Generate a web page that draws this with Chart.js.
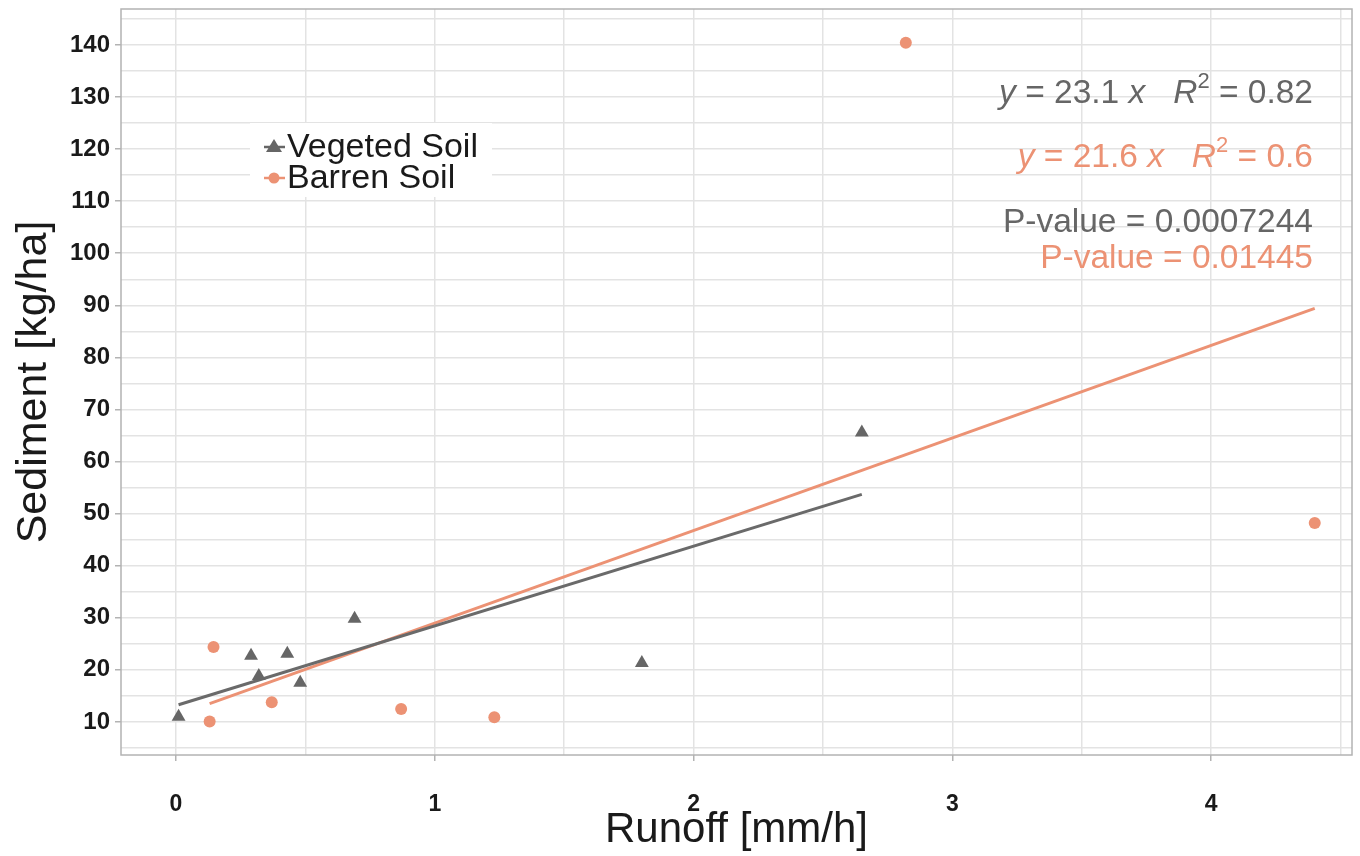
<!DOCTYPE html>
<html>
<head>
<meta charset="utf-8">
<script src="https://cdn.jsdelivr.net/npm/chart.js@4/dist/chart.umd.min.js"></script>
<style>
  html, body { margin: 0; padding: 0; background: #fff; }
  #wrap { width: 1360px; height: 856px; }
</style>
</head>
<body>
<div id="wrap"><canvas id="sedChart" width="1360" height="856"></canvas></div>
<script>
// values
const vegX = [0.01, 0.29, 0.32, 0.43, 0.48, 0.69, 1.80, 2.65];
const vegY = [11.0, 22.7, 18.8, 23.1, 17.5, 29.8, 21.3, 65.6];
const barX = [0.13, 0.145, 0.37, 0.87, 1.23, 2.82, 4.40];
const barY = [10.1, 24.4, 13.8, 12.5, 10.9, 140.4, 48.2];

// fitted lines (end points)
const vegFitX = [0.01, 2.65];
const vegFitY = [13.3, 53.7];
const barFitX = [0.13, 4.40];
const barFitY = [13.5, 89.4];

const seriesNames = ["Vegeted Soil", "Barren Soil"];
const vegEq = "y = 23.1 x   R2 = 0.82";
const barEq = "y = 21.6 x   R2 = 0.6";
const vegP = "P-value = 0.0007244";
const barP = "P-value = 0.01445";

const GREY = "#666666";
const SALMON = "#ec9274";
const FONT = "'Liberation Sans', Arial, sans-serif";

const toPts = (xs, ys) => xs.map((x, i) => ({ x: x, y: ys[i] }));

// ggplot-ish panel border, legend and the stats text
const extras = {
    id: "extras",
    afterDraw(chart) {
        const c = chart.ctx;
        const a = chart.chartArea;
        c.save();
        c.strokeStyle = "#b3b3b3";
        c.lineWidth = 1.5;
        c.strokeRect(a.left, a.top, a.right - a.left, a.bottom - a.top);

        // legend box
        const lx = a.left + 129, ly = a.top + 114;
        c.fillStyle = "#fff";
        c.fillRect(lx, ly, 242, 74);
        const rows = [
            { name: seriesNames[0], col: GREY, shape: "tri", y: ly + 24 },
            { name: seriesNames[1], col: SALMON, shape: "dot", y: ly + 55 },
        ];
        rows.forEach((r) => {
            c.strokeStyle = r.col;
            c.lineWidth = 2.5;
            c.beginPath();
            c.moveTo(lx + 14, r.y);
            c.lineTo(lx + 35, r.y);
            c.stroke();
            c.fillStyle = r.col;
            c.beginPath();
            if (r.shape === "tri") {
                c.moveTo(lx + 24, r.y - 8);
                c.lineTo(lx + 32, r.y + 5);
                c.lineTo(lx + 16, r.y + 5);
                c.closePath();
            } else {
                c.arc(lx + 24, r.y, 5.5, 0, Math.PI * 2);
            }
            c.fill();
            c.fillStyle = "#1a1a1a";
            c.font = "34px " + FONT;
            c.textBaseline = "middle";
            c.textAlign = "left";
            c.fillText(r.name, lx + 37, r.y + 1);
        });

        // stats text, right aligned
        const right = a.left + 1192;
        drawEq(c, vegEq, GREY, right, a.top + 94);
        drawEq(c, barEq, SALMON, right, a.top + 158);
        c.font = "33.5px " + FONT;
        c.textBaseline = "alphabetic";
        c.textAlign = "right";
        c.fillStyle = GREY;
        c.fillText(vegP, right, a.top + 223);
        c.fillStyle = SALMON;
        c.fillText(barP, right, a.top + 259);
        c.restore();
    },
};

// "y = 23.1 x   R2 = 0.82" with italics and superscript 2
function drawEq(c, str, col, right, base) {
    const m = str.match(/^y( = [\d.]+ )x(\s+)R2( = [\d.]+)$/);
    const parts = [
        { t: "y", f: "italic 33.5px " + FONT },
        { t: m[1], f: "33.5px " + FONT },
        { t: "x", f: "italic 33.5px " + FONT },
        { t: m[2], f: "33.5px " + FONT },
        { t: "R", f: "italic 33.5px " + FONT },
        { t: "2", f: "22px " + FONT, sup: true },
        { t: m[3], f: "33.5px " + FONT },
    ];
    let w = 0;
    parts.forEach((p) => { c.font = p.f; p.w = c.measureText(p.t).width; w += p.w; });
    let x = right - w;
    c.fillStyle = col;
    c.textAlign = "left";
    c.textBaseline = "alphabetic";
    parts.forEach((p) => {
        c.font = p.f;
        c.fillText(p.t, x, p.sup ? base - 15 : base);
        x += p.w;
    });
}

new Chart(document.getElementById("sedChart"), {
    type: "scatter",
    data: {
        datasets: [
            {
                label: seriesNames[0],
                data: toPts(vegX, vegY),
                pointStyle: "triangle",
                pointRadius: 8,
                backgroundColor: GREY,
                borderColor: GREY,
                borderWidth: 0,
            },
            {
                label: seriesNames[1],
                data: toPts(barX, barY),
                pointStyle: "circle",
                pointRadius: 6,
                backgroundColor: SALMON,
                borderColor: SALMON,
                borderWidth: 0,
            },
            {
                type: "line",
                label: "fit veg",
                data: toPts(vegFitX, vegFitY),
                borderColor: "#6a6a6a",
                borderWidth: 3,
                pointRadius: 0,
            },
            {
                type: "line",
                label: "fit barren",
                data: toPts(barFitX, barFitY),
                borderColor: SALMON,
                borderWidth: 3,
                pointRadius: 0,
            },
        ],
    },
    options: {
        responsive: false,
        animation: false,
        layout: { padding: { left: 0, right: 8, top: 9, bottom: 0 } },
        plugins: { legend: { display: false }, tooltip: { enabled: false } },
        scales: {
            x: {
                type: "linear",
                min: -0.2125,
                max: 4.544,
                border: { display: false },
                grid: {
                    color: "#e3e3e3",
                    lineWidth: 1.5,
                    tickLength: 6,
                    tickColor: (ctx) => (ctx.tick && ctx.tick.value % 1 === 0 ? "#b3b3b3" : "rgba(0,0,0,0)"),
                },
                ticks: {
                    stepSize: 0.5,
                    includeBounds: false,
                    maxRotation: 0,
                    autoSkip: false,
                    padding: 30,
                    color: "#1a1a1a",
                    font: { family: FONT, size: 23, weight: "bold" },
                    callback: (v) => (v % 1 === 0 ? v : ""),
                },
                title: {
                    display: true,
                    text: "Runoff [mm/h]",
                    color: "#1a1a1a",
                    font: { family: FONT, size: 42 },
                    padding: { top: 0, bottom: 0 },
                },
                afterFit: (s) => {
                    s.height = 101;
                    s.paddingLeft = 0;
                    s.paddingRight = 0;
                },
            },
            y: {
                type: "linear",
                min: 3.65,
                max: 146.9,
                border: { display: false },
                grid: {
                    color: "#e3e3e3",
                    lineWidth: 1.5,
                    tickLength: 6,
                    tickColor: (ctx) => (ctx.tick && ctx.tick.value % 10 === 0 ? "#b3b3b3" : "rgba(0,0,0,0)"),
                },
                ticks: {
                    stepSize: 5,
                    includeBounds: false,
                    autoSkip: false,
                    padding: 5,
                    color: "#1a1a1a",
                    font: { family: FONT, size: 24, weight: "bold" },
                    callback: (v) => (v % 10 === 0 ? v : ""),
                },
                title: {
                    display: true,
                    text: "Sediment [kg/ha]",
                    color: "#1a1a1a",
                    font: { family: FONT, size: 43 },
                    padding: { top: 8, bottom: 0 },
                },
                afterFit: (s) => {
                    s.width = 121;
                    s.paddingTop = 0;
                    s.paddingBottom = 0;
                },
            },
        },
    },
    plugins: [extras],
});
</script>
</body>
</html>
